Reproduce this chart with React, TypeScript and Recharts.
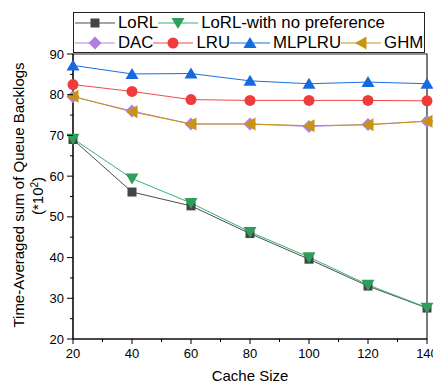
import React from 'react';
import { LineChart, Line, XAxis, YAxis, ReferenceArea } from 'recharts';

const cacheSizes = [20, 40, 60, 80, 100, 120, 140];
const lorl = [69.0, 56.1, 52.7, 45.9, 39.6, 33.0, 27.6];
const lorlNoPref = [69.2, 59.4, 53.4, 46.3, 40.1, 33.3, 27.7];
const dac = [79.5, 76.0, 72.8, 72.8, 72.2, 72.7, 73.5];
const lru = [82.5, 80.8, 78.8, 78.6, 78.6, 78.6, 78.5];
const mlplru = [87.2, 85.1, 85.2, 83.4, 82.7, 83.1, 82.7];
const ghm = [79.6, 75.8, 72.8, 72.8, 72.4, 72.6, 73.5];

const xTicks = [20, 30, 40, 50, 60, 70, 80, 90, 100, 110, 120, 130, 140];
const yTicks = [20, 25, 30, 35, 40, 45, 50, 55, 60, 65, 70, 75, 80, 85, 90];

const FONT = '"Liberation Sans", Arial, sans-serif';

type Shape = 'square' | 'down' | 'diamond' | 'circle' | 'up' | 'left';

const series: { key: string; name: string; line: string; fill: string; shape: Shape }[] = [
    { key: 'lorl', name: 'LoRL', line: '#4d4d4d', fill: '#454545', shape: 'square' },
    { key: 'lorlNoPref', name: 'LoRL-with no preference', line: '#3cb371', fill: '#2e9e5a', shape: 'down' },
    { key: 'dac', name: 'DAC', line: '#b583e6', fill: '#b07fe0', shape: 'diamond' },
    { key: 'lru', name: 'LRU', line: '#f04a4a', fill: '#ef3b3b', shape: 'circle' },
    { key: 'mlplru', name: 'MLPLRU', line: '#1a6fdf', fill: '#1769e0', shape: 'up' },
    { key: 'ghm', name: 'GHM', line: '#c8960c', fill: '#c99412', shape: 'left' },
];

const data = cacheSizes.map((c, i) => ({
    cache: c,
    lorl: lorl[i],
    lorlNoPref: lorlNoPref[i],
    dac: dac[i],
    lru: lru[i],
    mlplru: mlplru[i],
    ghm: ghm[i],
}));

function marker(shape: Shape, cx: number, cy: number, fill: string, key?: string | number) {
    switch (shape) {
        case 'square':
            return <rect key={key} x={cx - 4.5} y={cy - 4.5} width={9} height={9} fill={fill} />;
        case 'down':
            return <polygon key={key} points={`${cx - 6.5},${cy - 5} ${cx + 6.5},${cy - 5} ${cx},${cy + 6}`} fill={fill} />;
        case 'diamond':
            return <polygon key={key} points={`${cx},${cy - 6.5} ${cx + 6.5},${cy} ${cx},${cy + 6.5} ${cx - 6.5},${cy}`} fill={fill} />;
        case 'circle':
            return <circle key={key} cx={cx} cy={cy} r={5.5} fill={fill} />;
        case 'up':
            return <polygon key={key} points={`${cx - 6.5},${cy + 5} ${cx + 6.5},${cy + 5} ${cx},${cy - 6}`} fill={fill} />;
        case 'left':
            return <polygon key={key} points={`${cx + 5.5},${cy - 6.5} ${cx + 5.5},${cy + 6.5} ${cx - 6},${cy}`} fill={fill} />;
    }
}

const XTick = (props: any) => {
    const { x, y, payload } = props;
    const major = payload.value % 20 === 0;
    return (
        <g>
            <line x1={x} y1={y} x2={x} y2={y + (major ? 5 : 3)} stroke="#000" />
            {major && (
                <text x={x} y={y + 19} textAnchor="middle" fontSize={13} fill="#000" fontFamily={FONT}>
                    {payload.value}
                </text>
            )}
        </g>
    );
};

const YTick = (props: any) => {
    const { x, y, payload } = props;
    const major = payload.value % 10 === 0;
    return (
        <g>
            <line x1={x} y1={y} x2={x - (major ? 6 : 3)} y2={y} stroke="#000" />
            {major && (
                <text x={x - 9} y={y + 4.5} textAnchor="end" fontSize={13} fill="#000" fontFamily={FONT}>
                    {payload.value}
                </text>
            )}
        </g>
    );
};

const YTitle = () => (
    <g fontFamily={FONT} fontSize={15} fill="#000">
        <text x={0} y={0} textAnchor="middle" transform="translate(24,195) rotate(-90)">
            Time-Averaged sum of Queue Backlogs
        </text>
        <text x={0} y={0} textAnchor="middle" transform="translate(43,196) rotate(-90)">
            (*10<tspan dy={-5} fontSize={10}>2</tspan><tspan dy={5}>)</tspan>
        </text>
    </g>
);

const XTitle = () => (
    <text x={250} y={381} textAnchor="middle" fontSize={15} fill="#000" fontFamily={FONT}>
        Cache Size
    </text>
);

function LegendBox() {
    const rows = [series.slice(0, 2), series.slice(2)];
    return (
        <div
            style={{
                position: 'absolute',
                left: 73,
                top: 12,
                width: 352,
                height: 41,
                boxSizing: 'border-box',
                border: '1px solid #222',
                background: '#fff',
                fontFamily: FONT,
                fontSize: 16.8,
                lineHeight: '20px',
            }}
        >
            {rows.map((row, r) => (
                <div key={r} style={{ display: 'flex', alignItems: 'center', height: 20, paddingLeft: 1 }}>
                    {row.map((s) => (
                        <div key={s.key} style={{ display: 'flex', alignItems: 'center' }}>
                            <svg width={40} height={16}>
                                <line x1={0} y1={8} x2={40} y2={8} stroke={s.line} strokeWidth={1.2} />
                                {marker(s.shape, 20, 8, s.fill)}
                            </svg>
                            <span style={{ marginLeft: 3 }}>{s.name}</span>
                        </div>
                    ))}
                </div>
            ))}
        </div>
    );
}

export default function App() {
    return (
        <div style={{ position: 'absolute', left: 0, top: 0, width: 433, height: 383, background: '#fff' }}>
            <LineChart width={433} height={383} data={data} margin={{ top: 54, right: 6, bottom: 0, left: 0 }}>
                <ReferenceArea x1={20} x2={140} y1={20} y2={90} fill="none" stroke="#222" strokeWidth={1.2} />
                <XAxis
                    dataKey="cache"
                    type="number"
                    domain={[20, 140]}
                    ticks={xTicks}
                    interval={0}
                    tickSize={0}
                    tickMargin={0}
                    tickLine={false}
                    axisLine={{ stroke: '#000' }}
                    tick={<XTick />}
                    height={44}
                    label={<XTitle />}
                />
                <YAxis
                    type="number"
                    domain={[20, 90]}
                    ticks={yTicks}
                    interval={0}
                    tickSize={0}
                    tickMargin={0}
                    tickLine={false}
                    axisLine={{ stroke: '#000' }}
                    tick={<YTick />}
                    width={73}
                    label={<YTitle />}
                />
                {series.map((s) => (
                    <Line
                        key={s.key}
                        dataKey={s.key}
                        name={s.name}
                        stroke={s.line}
                        strokeWidth={1}
                        isAnimationActive={false}
                        dot={(p: any) => marker(s.shape, p.cx, p.cy, s.fill, p.key ?? p.index)}
                        activeDot={false}
                    />
                ))}
            </LineChart>
            <LegendBox />
        </div>
    );
}
